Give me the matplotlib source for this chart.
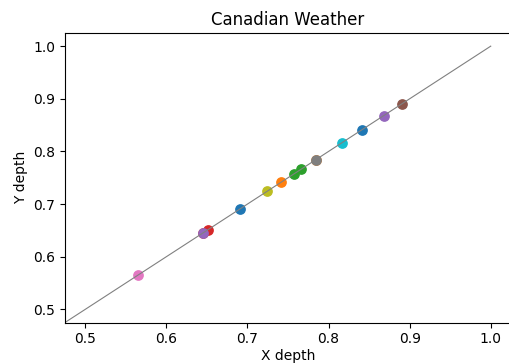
import matplotlib.pyplot as plt
import numpy as np

# Depth values per station (x depth, y depth), plotted in colour-cycle order
x_depth = [0.691, 0.784, 0.758, 0.651, 0.868, 0.891, 0.565, 0.784,
           0.724, 0.816, 0.841, 0.741, 0.766, 0.645, 0.645]
y_depth = [0.691, 0.784, 0.758, 0.651, 0.868, 0.891, 0.565, 0.784,
           0.724, 0.816, 0.841, 0.741, 0.766, 0.645, 0.645]

fig = plt.figure(figsize=(5.1, 3.63), dpi=100)
ax = fig.add_axes([65 / 510, 1 - 322.5 / 363, (511 - 65) / 510, (322.5 - 33) / 363])

# Reference diagonal
diag = np.array([0.0, 1.0])
ax.plot(diag, diag, color="gray", linewidth=0.8)

for xv, yv in zip(x_depth, y_depth):
    ax.scatter(xv, yv, s=45)

ax.set_xlim(0.475, 1.025)
ax.set_ylim(0.475, 1.025)
ax.set_xticks([0.5, 0.6, 0.7, 0.8, 0.9, 1.0])
ax.set_yticks([0.5, 0.6, 0.7, 0.8, 0.9, 1.0])

ax.set_title("Canadian Weather")
ax.set_xlabel("X depth", labelpad=2)
ax.set_ylabel("Y depth")

fig.savefig("out.png", dpi=100)
